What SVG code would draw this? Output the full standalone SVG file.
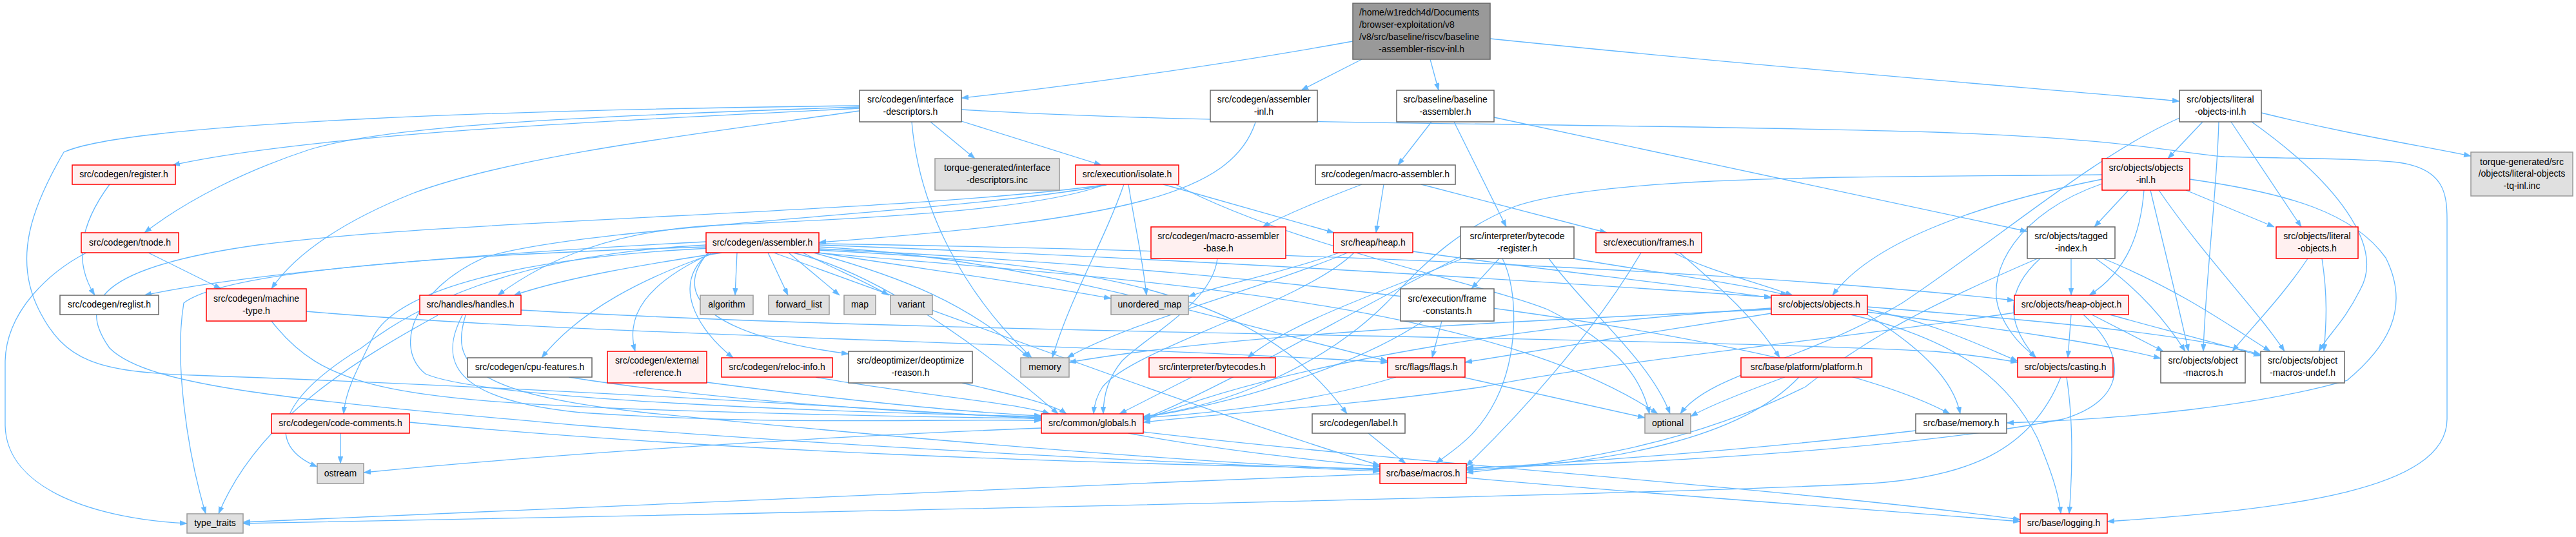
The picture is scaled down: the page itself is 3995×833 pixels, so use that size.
<svg xmlns="http://www.w3.org/2000/svg" width="3995" height="833" viewBox="0 0 3995 833">
<style>
.n{fill:#ffffff;stroke:#666666;stroke-width:1.5}
.r{fill:#fff0f0;stroke:#ff0000;stroke-width:1.5}
.s{fill:#e0e0e0;stroke:#999999;stroke-width:1.5}
.m{fill:#999999;stroke:#666666;stroke-width:1.5}
text{font-family:"Liberation Sans",Arial,sans-serif;font-size:14px;fill:#000000;text-anchor:middle}
text.l{text-anchor:start}
#edges path{fill:none;stroke:#63b8ff;stroke-width:1.3;marker-end:url(#ah)}
</style>
<defs>
<marker id="ah" markerUnits="userSpaceOnUse" markerWidth="11" markerHeight="8" refX="11" refY="4" orient="auto">
<path d="M0,0 L11,4 L0,8 z" fill="#63b8ff" stroke="#63b8ff" stroke-width="0.5"/>
</marker>
</defs>
<rect width="3995" height="833" fill="#ffffff"/>
<g id="edges">
<path d="M2098,64 C1900,100 1650,135 1491,152"/>
<path d="M2112,92 L2018,140"/>
<path d="M2218,92 L2231,140"/>
<path d="M2311,60 C2800,110 3200,140 3380,157"/>
<path d="M1333,168 C1000,185 500,205 268,256"/>
<path d="M1333,166 C900,180 600,195 480,232 C380,265 290,310 224,361"/>
<path d="M1333,172 C1100,205 800,240 640,300 C540,340 460,390 421,448"/>
<path d="M1333,164 C800,170 200,190 99,236 C50,320 20,400 60,480 C100,560 150,577 300,582 C800,600 1300,630 1615,650"/>
<path d="M1443,189 L1512,246"/>
<path d="M1491,188 L1708,256"/>
<path d="M1414,189 C1425,320 1490,450 1600,555"/>
<path d="M1491,170 C1900,195 2500,190 3000,205 C3300,215 3380,238 3450,243 C3550,246 3650,245 3720,252 C3790,262 3795,300 3795,340 L3795,650 C3795,760 3550,790 3268,809"/>
<path d="M1947,190 C1910,300 1750,340 1270,376"/>
<path d="M2220,189 L2168,256"/>
<path d="M2255,189 L2336,352"/>
<path d="M2317,182 L3144,359"/>
<path d="M3416,189 L3362,246"/>
<path d="M3507,175 C3650,210 3750,225 3832,242"/>
<path d="M3460,189 L3569,352"/>
<path d="M3441,189 C3438,300 3420,440 3417,545"/>
<path d="M3492,189 C3620,280 3700,380 3660,450 C3635,500 3610,520 3596,545"/>
<path d="M3380,183 C3250,240 3100,370 2950,470 C2800,560 2650,580 2606,642"/>
<path d="M170,286 C130,340 110,400 147,458"/>
<path d="M230,392 L343,448"/>
<path d="M134,392 C80,420 10,480 8,560 L8,660 C10,760 150,805 290,812"/>
<path d="M1714,286 C1600,330 1300,340 1100,350 C950,360 850,400 772,458"/>
<path d="M1712,287 C1400,330 700,340 400,380 C150,415 120,470 170,540 C230,600 450,620 900,660 C1400,700 1900,720 2140,731"/>
<path d="M1716,287 C1500,330 900,350 750,400 C640,450 610,540 660,580 C750,620 1300,640 1615,646"/>
<path d="M1743,286 C1710,380 1660,460 1632,555"/>
<path d="M1750,286 C1760,350 1772,400 1778,458"/>
<path d="M1804,286 L2069,361"/>
<path d="M1823,286 C2000,380 2300,440 2400,480 C2500,530 2545,580 2558,642"/>
<path d="M2112,286 C2050,310 2000,330 1958,352"/>
<path d="M2146,286 L2134,361"/>
<path d="M2204,286 L2492,361"/>
<path d="M1888,401 C1880,470 1780,520 1740,560 C1715,590 1711,620 1711,642"/>
<path d="M2077,392 C2000,420 1900,440 1843,460"/>
<path d="M2090,392 C1950,450 1750,500 1655,555"/>
<path d="M2100,392 C2020,470 1760,540 1710,600 C1700,615 1697,628 1696,642"/>
<path d="M2191,390 C2400,420 2600,440 2747,462"/>
<path d="M2268,401 C2150,450 2000,500 1935,555"/>
<path d="M2325,401 L2282,448"/>
<path d="M2330,401 C2355,450 2355,550 2320,620 C2290,680 2250,700 2227,719"/>
<path d="M2265,398 C2100,480 1900,600 1773,650"/>
<path d="M2402,401 C2460,480 2560,560 2590,642"/>
<path d="M2440,401 C2550,420 2700,440 2772,458"/>
<path d="M2545,392 C2470,520 2350,650 2274,723"/>
<path d="M2596,392 C2650,420 2700,430 2780,458"/>
<path d="M2605,392 C2660,440 2720,490 2760,555"/>
<path d="M2236,498 L2221,555"/>
<path d="M2207,498 C2100,570 1900,630 1773,647"/>
<path d="M679,489 C550,560 400,650 339,797"/>
<path d="M717,489 C680,560 700,620 900,640 C1200,660 1400,650 1615,652"/>
<path d="M722,489 C700,560 720,610 1000,640 C1500,690 1900,720 2140,729"/>
<path d="M808,481 C1500,520 2500,520 3000,545 C3050,550 3090,555 3129,562"/>
<path d="M475,483 C900,520 1600,530 2152,562"/>
<path d="M421,498 C500,600 600,620 1000,635 C1300,645 1500,648 1615,649"/>
<path d="M528,672 L528,719"/>
<path d="M635,655 C1100,700 1700,720 2140,727"/>
<path d="M882,585 C1100,620 1400,640 1615,648"/>
<path d="M1096,593 C1300,620 1500,640 1615,645"/>
<path d="M1265,585 C1400,610 1580,625 1628,642"/>
<path d="M1492,594 C1560,610 1630,625 1654,642"/>
<path d="M1848,585 L1736,642"/>
<path d="M1615,664 C1200,680 800,710 564,733"/>
<path d="M1750,672 C1900,700 2050,715 2140,724"/>
<path d="M1773,670 C2200,720 2800,760 3133,806"/>
<path d="M2122,672 L2180,719"/>
<path d="M2768,585 C2700,610 2650,630 2622,646"/>
<path d="M2790,585 C2700,680 2500,720 2274,729"/>
<path d="M2268,585 L2551,648"/>
<path d="M2165,585 C2050,620 1900,640 1773,648"/>
<path d="M2747,486 C2600,510 2400,540 2272,562"/>
<path d="M2747,478 C2400,500 2000,560 1773,652"/>
<path d="M2747,480 C2300,500 1900,520 1658,562"/>
<path d="M2896,480 C3000,500 3080,540 3129,560"/>
<path d="M2896,484 C3100,510 3250,530 3351,556"/>
<path d="M2896,476 C3200,500 3400,520 3506,550"/>
<path d="M2870,488 C3050,530 3120,600 3160,680 C3185,740 3193,770 3196,797"/>
<path d="M2896,488 C2980,540 3030,590 3040,642"/>
<path d="M3212,488 L3207,555"/>
<path d="M3244,488 L3355,545"/>
<path d="M3272,488 C3350,510 3430,530 3506,552"/>
<path d="M3124,485 C2900,520 2500,560 2300,600 C2100,630 1900,640 1773,655"/>
<path d="M3231,488 C3300,550 3300,620 3200,650 C3000,690 2600,720 2274,725"/>
<path d="M3212,401 L3212,458"/>
<path d="M3164,401 C3110,450 3110,500 3157,555"/>
<path d="M3250,401 C3320,450 3360,500 3389,545"/>
<path d="M3262,401 C3380,450 3450,500 3521,545"/>
<path d="M3160,401 C3000,470 2900,520 2800,600 C2600,700 2400,720 2274,733"/>
<path d="M3260,278 C3050,320 2900,380 2842,458"/>
<path d="M3260,285 C3130,330 3080,420 3100,480 C3115,520 3140,540 3158,555"/>
<path d="M3301,295 L3248,352"/>
<path d="M3325,295 C3320,360 3300,420 3240,458"/>
<path d="M3335,295 C3360,400 3380,480 3394,545"/>
<path d="M3348,295 C3420,400 3500,480 3543,545"/>
<path d="M3390,295 L3527,352"/>
<path d="M3396,278 C3550,300 3650,330 3700,400 C3740,480 3700,540 3640,590 C3500,630 3300,650 3112,656"/>
<path d="M3260,271 C2900,275 2500,270 2350,320 C2250,360 2200,420 2150,470 C2050,570 1900,630 1773,646"/>
<path d="M3579,401 C3540,460 3490,510 3462,545"/>
<path d="M3601,401 C3610,460 3608,500 3604,545"/>
<path d="M3205,585 C3215,650 3215,720 3209,797"/>
<path d="M3196,585 C3150,700 3050,740 2900,750 C2500,770 1000,800 377,812"/>
<path d="M2971,668 C2700,700 2400,720 2274,727"/>
<path d="M2274,741 C2600,770 2900,790 3133,809"/>
<path d="M2140,735 C1500,760 800,790 377,810"/>
<path d="M1095,375 C800,390 400,420 224,458"/>
<path d="M1120,392 C1000,410 880,430 797,458"/>
<path d="M1143,392 L1140,458"/>
<path d="M1191,392 L1222,458"/>
<path d="M1223,392 L1302,458"/>
<path d="M1245,392 C1300,420 1350,440 1378,458"/>
<path d="M1270,392 C1450,420 1600,440 1723,463"/>
<path d="M1262,392 C1400,430 1500,470 1596,555"/>
<path d="M1110,392 C1000,430 900,480 840,555"/>
<path d="M1105,392 C1000,440 970,490 985,545"/>
<path d="M1100,392 C1040,440 1080,510 1137,555"/>
<path d="M1098,392 C1040,460 1100,520 1316,549"/>
<path d="M1100,385 C800,400 620,450 580,520 C550,580 535,610 533,642"/>
<path d="M1095,380 C900,390 700,430 560,540 C430,620 410,690 492,724"/>
<path d="M1095,383 C700,395 350,420 285,470 C270,560 290,700 319,797"/>
<path d="M1230,392 C1350,420 1500,520 1641,642"/>
<path d="M1270,388 C1700,410 1950,450 2089,642"/>
<path d="M1270,383 C1600,400 1900,500 2152,560"/>
<path d="M1270,380 C1800,400 2300,430 2747,461"/>
<path d="M1270,378 C2000,390 2700,420 3124,466"/>
<path d="M1270,386 C2000,420 2800,520 3024,642"/>
<path d="M1265,392 C1700,430 2300,460 2571,642"/>
<path d="M1200,392 C1500,500 1900,650 2140,722"/>
</g>
<g id="n1"><rect class="m" x="2098" y="5" width="213" height="87"/><text class="l" x="2108" y="24">/home/w1redch4d/Documents</text><text class="l" x="2108" y="42.7">/browser-exploitation/v8</text><text class="l" x="2108" y="61.7">/v8/src/baseline/riscv/baseline</text><text x="2204.5" y="80.7">-assembler-riscv-inl.h</text></g>
<g id="n2"><rect class="n" x="1333" y="140" width="158" height="49"/><text x="1412" y="159">src/codegen/interface</text><text x="1412" y="178">-descriptors.h</text></g>
<g id="n3"><rect class="n" x="1877" y="140" width="166" height="49"/><text x="1960" y="159">src/codegen/assembler</text><text x="1960" y="178">-inl.h</text></g>
<g id="n4"><rect class="n" x="2166" y="140" width="151" height="49"/><text x="2241.5" y="159">src/baseline/baseline</text><text x="2241.5" y="178">-assembler.h</text></g>
<g id="n5"><rect class="n" x="3380" y="140" width="127" height="49"/><text x="3443.5" y="159">src/objects/literal</text><text x="3443.5" y="178">-objects-inl.h</text></g>
<g id="n6"><rect class="r" x="112" y="256" width="160" height="30"/><text x="192" y="275">src/codegen/register.h</text></g>
<g id="n7"><rect class="s" x="1450" y="246" width="193" height="49"/><text x="1546.5" y="265">torque-generated/interface</text><text x="1546.5" y="284">-descriptors.inc</text></g>
<g id="n8"><rect class="r" x="1668" y="256" width="160" height="30"/><text x="1748" y="275">src/execution/isolate.h</text></g>
<g id="n9"><rect class="n" x="2040" y="256" width="217" height="30"/><text x="2148.5" y="275">src/codegen/macro-assembler.h</text></g>
<g id="n10"><rect class="r" x="3260" y="246" width="136" height="49"/><text x="3328" y="265">src/objects/objects</text><text x="3328" y="284">-inl.h</text></g>
<g id="n11"><rect class="s" x="3832" y="236" width="158" height="68"/><text x="3911" y="255.7">torque-generated/src</text><text x="3911" y="274.3">/objects/literal-objects</text><text x="3911" y="293">-tq-inl.inc</text></g>
<g id="n12"><rect class="r" x="126" y="361" width="151" height="31"/><text x="201.5" y="380.5">src/codegen/tnode.h</text></g>
<g id="n13"><rect class="r" x="1095" y="361" width="175" height="31"/><text x="1182.5" y="380.5">src/codegen/assembler.h</text></g>
<g id="n14"><rect class="r" x="1785" y="352" width="209" height="49"/><text x="1889.5" y="371">src/codegen/macro-assembler</text><text x="1889.5" y="390">-base.h</text></g>
<g id="n15"><rect class="r" x="2068" y="361" width="123" height="31"/><text x="2129.5" y="380.5">src/heap/heap.h</text></g>
<g id="n16"><rect class="n" x="2265" y="352" width="176" height="49"/><text x="2353" y="371">src/interpreter/bytecode</text><text x="2353" y="390">-register.h</text></g>
<g id="n17"><rect class="r" x="2475" y="361" width="164" height="31"/><text x="2557" y="380.5">src/execution/frames.h</text></g>
<g id="n18"><rect class="n" x="3144" y="352" width="136" height="49"/><text x="3212" y="371">src/objects/tagged</text><text x="3212" y="390">-index.h</text></g>
<g id="n19"><rect class="r" x="3530" y="352" width="127" height="49"/><text x="3593.5" y="371">src/objects/literal</text><text x="3593.5" y="390">-objects.h</text></g>
<g id="n20"><rect class="n" x="93" y="458" width="153" height="30"/><text x="169.5" y="477">src/codegen/reglist.h</text></g>
<g id="n21"><rect class="r" x="320" y="448" width="155" height="50"/><text x="397.5" y="467.5">src/codegen/machine</text><text x="397.5" y="486.5">-type.h</text></g>
<g id="n22"><rect class="r" x="651" y="458" width="157" height="30"/><text x="729.5" y="477">src/handles/handles.h</text></g>
<g id="n23"><rect class="s" x="1086" y="458" width="82" height="30"/><text x="1127" y="477">algorithm</text></g>
<g id="n24"><rect class="s" x="1192" y="458" width="94" height="30"/><text x="1239" y="477">forward_list</text></g>
<g id="n25"><rect class="s" x="1309" y="458" width="49" height="30"/><text x="1333.5" y="477">map</text></g>
<g id="n26"><rect class="s" x="1381" y="458" width="65" height="30"/><text x="1413.5" y="477">variant</text></g>
<g id="n27"><rect class="s" x="1723" y="458" width="120" height="30"/><text x="1783" y="477">unordered_map</text></g>
<g id="n28"><rect class="n" x="2172" y="448" width="145" height="50"/><text x="2244.5" y="467.5">src/execution/frame</text><text x="2244.5" y="486.5">-constants.h</text></g>
<g id="n29"><rect class="r" x="2747" y="458" width="149" height="30"/><text x="2821.5" y="477">src/objects/objects.h</text></g>
<g id="n30"><rect class="r" x="3124" y="458" width="177" height="30"/><text x="3212.5" y="477">src/objects/heap-object.h</text></g>
<g id="n31"><rect class="n" x="725" y="555" width="193" height="30"/><text x="821.5" y="574">src/codegen/cpu-features.h</text></g>
<g id="n32"><rect class="r" x="942" y="545" width="154" height="49"/><text x="1019" y="564">src/codegen/external</text><text x="1019" y="583">-reference.h</text></g>
<g id="n33"><rect class="r" x="1119" y="555" width="172" height="30"/><text x="1205" y="574">src/codegen/reloc-info.h</text></g>
<g id="n34"><rect class="n" x="1316" y="545" width="192" height="49"/><text x="1412" y="564">src/deoptimizer/deoptimize</text><text x="1412" y="583">-reason.h</text></g>
<g id="n35"><rect class="s" x="1583" y="555" width="75" height="30"/><text x="1620.5" y="574">memory</text></g>
<g id="n36"><rect class="r" x="1782" y="555" width="196" height="30"/><text x="1880" y="574">src/interpreter/bytecodes.h</text></g>
<g id="n37"><rect class="r" x="2152" y="555" width="120" height="30"/><text x="2212" y="574">src/flags/flags.h</text></g>
<g id="n38"><rect class="r" x="2700" y="555" width="203" height="30"/><text x="2801.5" y="574">src/base/platform/platform.h</text></g>
<g id="n39"><rect class="r" x="3129" y="555" width="148" height="30"/><text x="3203" y="574">src/objects/casting.h</text></g>
<g id="n40"><rect class="n" x="3351" y="545" width="131" height="49"/><text x="3416.5" y="564">src/objects/object</text><text x="3416.5" y="583">-macros.h</text></g>
<g id="n41"><rect class="n" x="3506" y="545" width="130" height="49"/><text x="3571" y="564">src/objects/object</text><text x="3571" y="583">-macros-undef.h</text></g>
<g id="n42"><rect class="r" x="421" y="642" width="214" height="30"/><text x="528" y="661">src/codegen/code-comments.h</text></g>
<g id="n43"><rect class="r" x="1615" y="642" width="158" height="30"/><text x="1694" y="661">src/common/globals.h</text></g>
<g id="n44"><rect class="n" x="2035" y="642" width="144" height="30"/><text x="2107" y="661">src/codegen/label.h</text></g>
<g id="n45"><rect class="s" x="2551" y="642" width="71" height="30"/><text x="2586.5" y="661">optional</text></g>
<g id="n46"><rect class="n" x="2971" y="642" width="141" height="30"/><text x="3041.5" y="661">src/base/memory.h</text></g>
<g id="n47"><rect class="s" x="492" y="719" width="72" height="31"/><text x="528" y="738.5">ostream</text></g>
<g id="n48"><rect class="r" x="2140" y="719" width="134" height="31"/><text x="2207" y="738.5">src/base/macros.h</text></g>
<g id="n49"><rect class="s" x="290" y="797" width="87" height="30"/><text x="333.5" y="816">type_traits</text></g>
<g id="n50"><rect class="r" x="3133" y="797" width="135" height="30"/><text x="3200.5" y="816">src/base/logging.h</text></g>
</svg>
